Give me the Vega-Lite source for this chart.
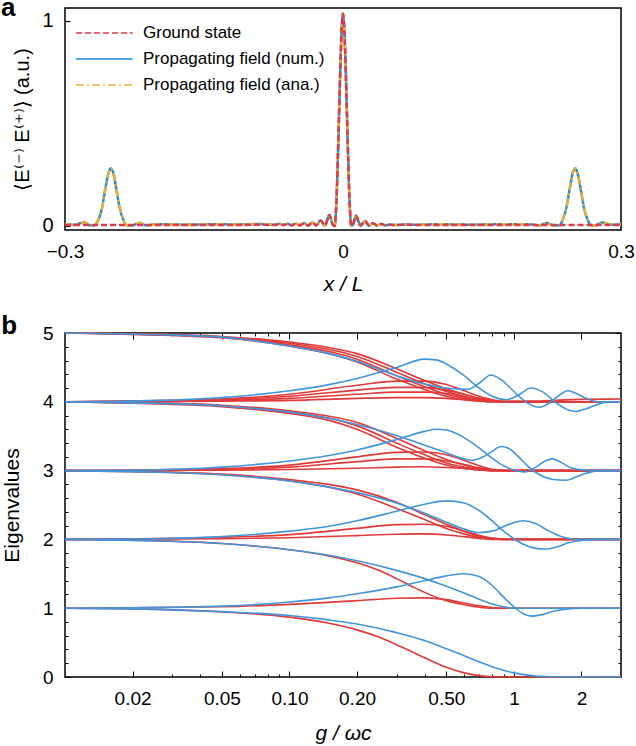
{
  "$schema": "https://vega.github.io/schema/vega-lite/v6.json",
  "padding": {"left": 0, "top": -6, "right": 0, "bottom": 0},
  "spacing": 17,
  "config": {
    "font": "Liberation Sans",
    "view": {"stroke": "black", "strokeWidth": 1.5},
    "axis": {"domain": false, "grid": false, "labelColor": "black", "titleColor": "black", "titleFontWeight": "normal", "tickColor": "black", "labelFont": "Liberation Sans", "titleFont": "Liberation Sans"},
    "legend": {"orient": "top-left", "offset": 15, "padding": 0, "symbolOffset": -5, "symbolType": "M-1,0H5.3", "symbolSize": 324, "symbolStrokeWidth": 1.6, "labelFontSize": 17, "labelOffset": 48, "rowPadding": 8, "labelLimit": 400, "labelColor": "black"}
  },
  "datasets": {
    "fa": [
      {"x": -0.3, "g": 0.004, "n": 0.008, "a": 0.008},
      {"x": -0.29, "g": 0.004, "n": 0.006, "a": 0.006},
      {"x": -0.2795, "g": 0.004, "n": 0.017, "a": 0.017},
      {"x": -0.272, "g": 0.004, "n": 0.002, "a": 0.002},
      {"x": -0.268, "g": 0.004, "n": 0.003, "a": 0.003},
      {"x": -0.264, "g": 0.004, "n": 0.03, "a": 0.03},
      {"x": -0.26, "g": 0.004, "n": 0.09, "a": 0.09},
      {"x": -0.2565, "g": 0.004, "n": 0.18, "a": 0.18},
      {"x": -0.2535, "g": 0.004, "n": 0.25, "a": 0.25},
      {"x": -0.2507, "g": 0.004, "n": 0.28, "a": 0.28},
      {"x": -0.248, "g": 0.004, "n": 0.26, "a": 0.26},
      {"x": -0.245, "g": 0.004, "n": 0.19, "a": 0.19},
      {"x": -0.2415, "g": 0.004, "n": 0.1, "a": 0.1},
      {"x": -0.2375, "g": 0.004, "n": 0.035, "a": 0.035},
      {"x": -0.2335, "g": 0.004, "n": 0.003, "a": 0.003},
      {"x": -0.228, "g": 0.004, "n": 0.002, "a": 0.002},
      {"x": -0.2198, "g": 0.004, "n": 0.014, "a": 0.014},
      {"x": -0.212, "g": 0.004, "n": 0.003, "a": 0.003},
      {"x": -0.2, "g": 0.004, "n": 0.008, "a": 0.008},
      {"x": -0.17, "g": 0.004, "n": 0.006, "a": 0.006},
      {"x": -0.14, "g": 0.004, "n": 0.008, "a": 0.008},
      {"x": -0.11, "g": 0.004, "n": 0.007, "a": 0.007},
      {"x": -0.09, "g": 0.006, "n": 0.009, "a": 0.009},
      {"x": -0.075, "g": 0.004, "n": 0.006, "a": 0.006},
      {"x": -0.068, "g": 0.008, "n": 0.01, "a": 0.01},
      {"x": -0.064, "g": 0.004, "n": 0.005, "a": 0.005},
      {"x": -0.06, "g": 0.009, "n": 0.01, "a": 0.01},
      {"x": -0.0555, "g": 0.003, "n": 0.004, "a": 0.004},
      {"x": -0.051, "g": 0.01, "n": 0.011, "a": 0.011},
      {"x": -0.0465, "g": 0.003, "n": 0.003, "a": 0.003},
      {"x": -0.042, "g": 0.013, "n": 0.013, "a": 0.013},
      {"x": -0.0375, "g": 0.002, "n": 0.002, "a": 0.002},
      {"x": -0.033, "g": 0.017, "n": 0.017, "a": 0.017},
      {"x": -0.029, "g": 0.002, "n": 0.002, "a": 0.002},
      {"x": -0.0243, "g": 0.026, "n": 0.026, "a": 0.026},
      {"x": -0.0195, "g": 0.002, "n": 0.002, "a": 0.002},
      {"x": -0.0147, "g": 0.053, "n": 0.053, "a": 0.053},
      {"x": -0.0115, "g": 0.01, "n": 0.01, "a": 0.01},
      {"x": -0.009, "g": 0.0, "n": 0.0, "a": 0.0},
      {"x": -0.007, "g": 0.13, "n": 0.13, "a": 0.13},
      {"x": -0.005, "g": 0.42, "n": 0.42, "a": 0.42},
      {"x": -0.003, "g": 0.75, "n": 0.75, "a": 0.75},
      {"x": -0.0015, "g": 0.95, "n": 0.95, "a": 0.95},
      {"x": 0.0, "g": 1.035, "n": 1.035, "a": 1.035},
      {"x": 0.0015, "g": 0.95, "n": 0.95, "a": 0.95},
      {"x": 0.003, "g": 0.75, "n": 0.75, "a": 0.75},
      {"x": 0.005, "g": 0.42, "n": 0.42, "a": 0.42},
      {"x": 0.007, "g": 0.13, "n": 0.13, "a": 0.13},
      {"x": 0.009, "g": 0.0, "n": 0.0, "a": 0.0},
      {"x": 0.0112, "g": 0.01, "n": 0.01, "a": 0.01},
      {"x": 0.0138, "g": 0.049, "n": 0.049, "a": 0.049},
      {"x": 0.019, "g": 0.002, "n": 0.002, "a": 0.002},
      {"x": 0.0238, "g": 0.024, "n": 0.024, "a": 0.024},
      {"x": 0.028, "g": 0.002, "n": 0.002, "a": 0.002},
      {"x": 0.032, "g": 0.013, "n": 0.013, "a": 0.013},
      {"x": 0.037, "g": 0.002, "n": 0.002, "a": 0.002},
      {"x": 0.041, "g": 0.009, "n": 0.009, "a": 0.009},
      {"x": 0.046, "g": 0.003, "n": 0.003, "a": 0.003},
      {"x": 0.05, "g": 0.006, "n": 0.006, "a": 0.006},
      {"x": 0.056, "g": 0.004, "n": 0.004, "a": 0.004},
      {"x": 0.065, "g": 0.006, "n": 0.007, "a": 0.007},
      {"x": 0.08, "g": 0.004, "n": 0.005, "a": 0.005},
      {"x": 0.1, "g": 0.004, "n": 0.008, "a": 0.008},
      {"x": 0.14, "g": 0.004, "n": 0.006, "a": 0.006},
      {"x": 0.17, "g": 0.004, "n": 0.008, "a": 0.008},
      {"x": 0.2, "g": 0.004, "n": 0.008, "a": 0.008},
      {"x": 0.212, "g": 0.004, "n": 0.003, "a": 0.003},
      {"x": 0.2198, "g": 0.004, "n": 0.014, "a": 0.014},
      {"x": 0.228, "g": 0.004, "n": 0.002, "a": 0.002},
      {"x": 0.2335, "g": 0.004, "n": 0.003, "a": 0.003},
      {"x": 0.2375, "g": 0.004, "n": 0.035, "a": 0.035},
      {"x": 0.2415, "g": 0.004, "n": 0.1, "a": 0.1},
      {"x": 0.245, "g": 0.004, "n": 0.19, "a": 0.19},
      {"x": 0.248, "g": 0.004, "n": 0.26, "a": 0.26},
      {"x": 0.2507, "g": 0.004, "n": 0.28, "a": 0.28},
      {"x": 0.2535, "g": 0.004, "n": 0.25, "a": 0.25},
      {"x": 0.2565, "g": 0.004, "n": 0.18, "a": 0.18},
      {"x": 0.26, "g": 0.004, "n": 0.09, "a": 0.09},
      {"x": 0.264, "g": 0.004, "n": 0.03, "a": 0.03},
      {"x": 0.268, "g": 0.004, "n": 0.003, "a": 0.003},
      {"x": 0.272, "g": 0.004, "n": 0.002, "a": 0.002},
      {"x": 0.2795, "g": 0.004, "n": 0.017, "a": 0.017},
      {"x": 0.29, "g": 0.004, "n": 0.006, "a": 0.006},
      {"x": 0.3, "g": 0.004, "n": 0.008, "a": 0.008}
    ],
    "red": [
      {"c":"r0","lv":0,"g":0.01,"e":1},{"c":"r0","lv":0,"g":0.02,"e":0.99},{"c":"r0","lv":0,"g":0.05,"e":0.945},{"c":"r0","lv":0,"g":0.1,"e":0.87},{"c":"r0","lv":0,"g":0.15,"e":0.78},{"c":"r0","lv":0,"g":0.2,"e":0.685},{"c":"r0","lv":0,"g":0.25,"e":0.58},{"c":"r0","lv":0,"g":0.3,"e":0.47},{"c":"r0","lv":0,"g":0.35,"e":0.37},{"c":"r0","lv":0,"g":0.4,"e":0.28},{"c":"r0","lv":0,"g":0.5,"e":0.14},{"c":"r0","lv":0,"g":0.6,"e":0.06},{"c":"r0","lv":0,"g":0.7,"e":0.02},{"c":"r0","lv":0,"g":0.8,"e":0.004},{"c":"r0","lv":0,"g":0.9,"e":0},{"c":"r0","lv":0,"g":3,"e":0},
      {"c":"r1a","lv":1,"g":0.01,"e":1},{"c":"r1a","lv":1,"g":0.05,"e":1.02},{"c":"r1a","lv":1,"g":0.1,"e":1.055},{"c":"r1a","lv":1,"g":0.2,"e":1.11},{"c":"r1a","lv":1,"g":0.3,"e":1.145},{"c":"r1a","lv":1,"g":0.4,"e":1.15},{"c":"r1a","lv":1,"g":0.5,"e":1.125},{"c":"r1a","lv":1,"g":0.6,"e":1.075},{"c":"r1a","lv":1,"g":0.7,"e":1.035},{"c":"r1a","lv":1,"g":0.8,"e":1.01},{"c":"r1a","lv":1,"g":0.9,"e":1},{"c":"r1a","lv":1,"g":3,"e":1},
      {"c":"r1b","lv":1,"g":0.01,"e":2},{"c":"r1b","lv":1,"g":0.02,"e":1.99},{"c":"r1b","lv":1,"g":0.05,"e":1.94},{"c":"r1b","lv":1,"g":0.1,"e":1.85},{"c":"r1b","lv":1,"g":0.15,"e":1.76},{"c":"r1b","lv":1,"g":0.2,"e":1.66},{"c":"r1b","lv":1,"g":0.25,"e":1.55},{"c":"r1b","lv":1,"g":0.3,"e":1.43},{"c":"r1b","lv":1,"g":0.35,"e":1.32},{"c":"r1b","lv":1,"g":0.4,"e":1.23},{"c":"r1b","lv":1,"g":0.5,"e":1.11},{"c":"r1b","lv":1,"g":0.6,"e":1.05},{"c":"r1b","lv":1,"g":0.7,"e":1.015},{"c":"r1b","lv":1,"g":0.8,"e":1},{"c":"r1b","lv":1,"g":3,"e":1},
      {"c":"r2a","lv":2,"g":0.01,"e":2},{"c":"r2a","lv":2,"g":0.05,"e":2.03},{"c":"r2a","lv":2,"g":0.1,"e":2.07},{"c":"r2a","lv":2,"g":0.2,"e":2.16},{"c":"r2a","lv":2,"g":0.3,"e":2.215},{"c":"r2a","lv":2,"g":0.4,"e":2.22},{"c":"r2a","lv":2,"g":0.5,"e":2.19},{"c":"r2a","lv":2,"g":0.6,"e":2.12},{"c":"r2a","lv":2,"g":0.7,"e":2.06},{"c":"r2a","lv":2,"g":0.8,"e":2.02},{"c":"r2a","lv":2,"g":0.9,"e":2.005},{"c":"r2a","lv":2,"g":1,"e":2},{"c":"r2a","lv":2,"g":3,"e":2},
      {"c":"r2b","lv":2,"g":0.01,"e":2},{"c":"r2b","lv":2,"g":0.05,"e":2.01},{"c":"r2b","lv":2,"g":0.1,"e":2.025},{"c":"r2b","lv":2,"g":0.2,"e":2.055},{"c":"r2b","lv":2,"g":0.3,"e":2.075},{"c":"r2b","lv":2,"g":0.4,"e":2.08},{"c":"r2b","lv":2,"g":0.5,"e":2.065},{"c":"r2b","lv":2,"g":0.6,"e":2.04},{"c":"r2b","lv":2,"g":0.7,"e":2.015},{"c":"r2b","lv":2,"g":0.8,"e":2},{"c":"r2b","lv":2,"g":3,"e":2},
      {"c":"r2c","lv":2,"g":0.01,"e":3},{"c":"r2c","lv":2,"g":0.02,"e":2.99},{"c":"r2c","lv":2,"g":0.05,"e":2.95},{"c":"r2c","lv":2,"g":0.1,"e":2.87},{"c":"r2c","lv":2,"g":0.15,"e":2.8},{"c":"r2c","lv":2,"g":0.2,"e":2.72},{"c":"r2c","lv":2,"g":0.3,"e":2.54},{"c":"r2c","lv":2,"g":0.4,"e":2.36},{"c":"r2c","lv":2,"g":0.5,"e":2.22},{"c":"r2c","lv":2,"g":0.6,"e":2.12},{"c":"r2c","lv":2,"g":0.7,"e":2.05},{"c":"r2c","lv":2,"g":0.8,"e":2.015},{"c":"r2c","lv":2,"g":0.9,"e":2},{"c":"r2c","lv":2,"g":3,"e":2},
      {"c":"r2d","lv":2,"g":0.01,"e":3},{"c":"r2d","lv":2,"g":0.02,"e":2.985},{"c":"r2d","lv":2,"g":0.05,"e":2.94},{"c":"r2d","lv":2,"g":0.1,"e":2.85},{"c":"r2d","lv":2,"g":0.15,"e":2.76},{"c":"r2d","lv":2,"g":0.2,"e":2.66},{"c":"r2d","lv":2,"g":0.3,"e":2.45},{"c":"r2d","lv":2,"g":0.4,"e":2.29},{"c":"r2d","lv":2,"g":0.5,"e":2.16},{"c":"r2d","lv":2,"g":0.6,"e":2.08},{"c":"r2d","lv":2,"g":0.7,"e":2.03},{"c":"r2d","lv":2,"g":0.8,"e":2.005},{"c":"r2d","lv":2,"g":0.9,"e":2},{"c":"r2d","lv":2,"g":3,"e":2},
      {"c":"r3a","lv":3,"g":0.01,"e":3},{"c":"r3a","lv":3,"g":0.05,"e":3.03},{"c":"r3a","lv":3,"g":0.1,"e":3.08},{"c":"r3a","lv":3,"g":0.2,"e":3.2},{"c":"r3a","lv":3,"g":0.3,"e":3.265},{"c":"r3a","lv":3,"g":0.4,"e":3.27},{"c":"r3a","lv":3,"g":0.5,"e":3.23},{"c":"r3a","lv":3,"g":0.6,"e":3.15},{"c":"r3a","lv":3,"g":0.7,"e":3.07},{"c":"r3a","lv":3,"g":0.8,"e":3.02},{"c":"r3a","lv":3,"g":0.9,"e":3.005},{"c":"r3a","lv":3,"g":1,"e":3},{"c":"r3a","lv":3,"g":3,"e":3},
      {"c":"r3b","lv":3,"g":0.01,"e":3},{"c":"r3b","lv":3,"g":0.05,"e":3.02},{"c":"r3b","lv":3,"g":0.1,"e":3.05},{"c":"r3b","lv":3,"g":0.2,"e":3.13},{"c":"r3b","lv":3,"g":0.3,"e":3.17},{"c":"r3b","lv":3,"g":0.4,"e":3.17},{"c":"r3b","lv":3,"g":0.5,"e":3.14},{"c":"r3b","lv":3,"g":0.6,"e":3.09},{"c":"r3b","lv":3,"g":0.7,"e":3.04},{"c":"r3b","lv":3,"g":0.8,"e":3.01},{"c":"r3b","lv":3,"g":0.9,"e":3},{"c":"r3b","lv":3,"g":3,"e":3},
      {"c":"r3c","lv":3,"g":0.01,"e":3},{"c":"r3c","lv":3,"g":0.05,"e":3.005},{"c":"r3c","lv":3,"g":0.1,"e":3.015},{"c":"r3c","lv":3,"g":0.2,"e":3.035},{"c":"r3c","lv":3,"g":0.3,"e":3.05},{"c":"r3c","lv":3,"g":0.4,"e":3.055},{"c":"r3c","lv":3,"g":0.5,"e":3.045},{"c":"r3c","lv":3,"g":0.6,"e":3.03},{"c":"r3c","lv":3,"g":0.7,"e":3.01},{"c":"r3c","lv":3,"g":0.8,"e":3},{"c":"r3c","lv":3,"g":3,"e":3},
      {"c":"r3d","lv":3,"g":0.01,"e":4},{"c":"r3d","lv":3,"g":0.02,"e":3.99},{"c":"r3d","lv":3,"g":0.05,"e":3.95},{"c":"r3d","lv":3,"g":0.1,"e":3.87},{"c":"r3d","lv":3,"g":0.15,"e":3.79},{"c":"r3d","lv":3,"g":0.2,"e":3.7},{"c":"r3d","lv":3,"g":0.3,"e":3.47},{"c":"r3d","lv":3,"g":0.4,"e":3.29},{"c":"r3d","lv":3,"g":0.5,"e":3.16},{"c":"r3d","lv":3,"g":0.6,"e":3.08},{"c":"r3d","lv":3,"g":0.7,"e":3.03},{"c":"r3d","lv":3,"g":0.8,"e":3.01},{"c":"r3d","lv":3,"g":0.9,"e":3},{"c":"r3d","lv":3,"g":3,"e":3},
      {"c":"r3e","lv":3,"g":0.01,"e":4},{"c":"r3e","lv":3,"g":0.02,"e":3.985},{"c":"r3e","lv":3,"g":0.05,"e":3.94},{"c":"r3e","lv":3,"g":0.1,"e":3.85},{"c":"r3e","lv":3,"g":0.15,"e":3.76},{"c":"r3e","lv":3,"g":0.2,"e":3.65},{"c":"r3e","lv":3,"g":0.3,"e":3.4},{"c":"r3e","lv":3,"g":0.4,"e":3.23},{"c":"r3e","lv":3,"g":0.5,"e":3.11},{"c":"r3e","lv":3,"g":0.6,"e":3.05},{"c":"r3e","lv":3,"g":0.7,"e":3.015},{"c":"r3e","lv":3,"g":0.8,"e":3},{"c":"r3e","lv":3,"g":3,"e":3},
      {"c":"r3f","lv":3,"g":0.01,"e":4},{"c":"r3f","lv":3,"g":0.02,"e":3.98},{"c":"r3f","lv":3,"g":0.05,"e":3.93},{"c":"r3f","lv":3,"g":0.1,"e":3.83},{"c":"r3f","lv":3,"g":0.15,"e":3.73},{"c":"r3f","lv":3,"g":0.2,"e":3.6},{"c":"r3f","lv":3,"g":0.3,"e":3.34},{"c":"r3f","lv":3,"g":0.4,"e":3.18},{"c":"r3f","lv":3,"g":0.5,"e":3.08},{"c":"r3f","lv":3,"g":0.6,"e":3.03},{"c":"r3f","lv":3,"g":0.7,"e":3.01},{"c":"r3f","lv":3,"g":0.8,"e":3},{"c":"r3f","lv":3,"g":3,"e":3},
      {"c":"r4a","lv":4,"g":0.01,"e":4},{"c":"r4a","lv":4,"g":0.05,"e":4.04},{"c":"r4a","lv":4,"g":0.1,"e":4.11},{"c":"r4a","lv":4,"g":0.2,"e":4.24},{"c":"r4a","lv":4,"g":0.3,"e":4.3},{"c":"r4a","lv":4,"g":0.4,"e":4.3},{"c":"r4a","lv":4,"g":0.5,"e":4.25},{"c":"r4a","lv":4,"g":0.6,"e":4.16},{"c":"r4a","lv":4,"g":0.7,"e":4.08},{"c":"r4a","lv":4,"g":0.8,"e":4.03},{"c":"r4a","lv":4,"g":0.9,"e":4.01},{"c":"r4a","lv":4,"g":1.2,"e":4.01},{"c":"r4a","lv":4,"g":1.6,"e":4.025},{"c":"r4a","lv":4,"g":2,"e":4.035},{"c":"r4a","lv":4,"g":3,"e":4.04},
      {"c":"r4b","lv":4,"g":0.01,"e":4},{"c":"r4b","lv":4,"g":0.05,"e":4.03},{"c":"r4b","lv":4,"g":0.1,"e":4.08},{"c":"r4b","lv":4,"g":0.2,"e":4.17},{"c":"r4b","lv":4,"g":0.3,"e":4.21},{"c":"r4b","lv":4,"g":0.4,"e":4.21},{"c":"r4b","lv":4,"g":0.5,"e":4.17},{"c":"r4b","lv":4,"g":0.6,"e":4.11},{"c":"r4b","lv":4,"g":0.7,"e":4.05},{"c":"r4b","lv":4,"g":0.8,"e":4.02},{"c":"r4b","lv":4,"g":0.9,"e":4},{"c":"r4b","lv":4,"g":3,"e":4},
      {"c":"r4c","lv":4,"g":0.01,"e":4},{"c":"r4c","lv":4,"g":0.05,"e":4.02},{"c":"r4c","lv":4,"g":0.1,"e":4.05},{"c":"r4c","lv":4,"g":0.2,"e":4.11},{"c":"r4c","lv":4,"g":0.3,"e":4.14},{"c":"r4c","lv":4,"g":0.4,"e":4.14},{"c":"r4c","lv":4,"g":0.5,"e":4.12},{"c":"r4c","lv":4,"g":0.6,"e":4.07},{"c":"r4c","lv":4,"g":0.7,"e":4.03},{"c":"r4c","lv":4,"g":0.8,"e":4.01},{"c":"r4c","lv":4,"g":0.9,"e":4},{"c":"r4c","lv":4,"g":3,"e":4},
      {"c":"r4d","lv":4,"g":0.01,"e":4},{"c":"r4d","lv":4,"g":0.05,"e":4.01},{"c":"r4d","lv":4,"g":0.1,"e":4.02},{"c":"r4d","lv":4,"g":0.2,"e":4.05},{"c":"r4d","lv":4,"g":0.3,"e":4.06},{"c":"r4d","lv":4,"g":0.4,"e":4.06},{"c":"r4d","lv":4,"g":0.5,"e":4.05},{"c":"r4d","lv":4,"g":0.6,"e":4.03},{"c":"r4d","lv":4,"g":0.7,"e":4.01},{"c":"r4d","lv":4,"g":0.8,"e":4},{"c":"r4d","lv":4,"g":3,"e":4},
      {"c":"r4e","lv":4,"g":0.01,"e":5},{"c":"r4e","lv":4,"g":0.02,"e":4.99},{"c":"r4e","lv":4,"g":0.05,"e":4.95},{"c":"r4e","lv":4,"g":0.1,"e":4.87},{"c":"r4e","lv":4,"g":0.15,"e":4.79},{"c":"r4e","lv":4,"g":0.2,"e":4.7},{"c":"r4e","lv":4,"g":0.3,"e":4.48},{"c":"r4e","lv":4,"g":0.4,"e":4.31},{"c":"r4e","lv":4,"g":0.5,"e":4.19},{"c":"r4e","lv":4,"g":0.6,"e":4.11},{"c":"r4e","lv":4,"g":0.7,"e":4.05},{"c":"r4e","lv":4,"g":0.8,"e":4.02},{"c":"r4e","lv":4,"g":0.9,"e":4},{"c":"r4e","lv":4,"g":3,"e":4},
      {"c":"r4f","lv":4,"g":0.01,"e":5},{"c":"r4f","lv":4,"g":0.02,"e":4.99},{"c":"r4f","lv":4,"g":0.05,"e":4.94},{"c":"r4f","lv":4,"g":0.1,"e":4.85},{"c":"r4f","lv":4,"g":0.15,"e":4.76},{"c":"r4f","lv":4,"g":0.2,"e":4.66},{"c":"r4f","lv":4,"g":0.3,"e":4.43},{"c":"r4f","lv":4,"g":0.4,"e":4.26},{"c":"r4f","lv":4,"g":0.5,"e":4.15},{"c":"r4f","lv":4,"g":0.6,"e":4.08},{"c":"r4f","lv":4,"g":0.7,"e":4.03},{"c":"r4f","lv":4,"g":0.8,"e":4.01},{"c":"r4f","lv":4,"g":0.9,"e":4},{"c":"r4f","lv":4,"g":3,"e":4},
      {"c":"r4g","lv":4,"g":0.01,"e":5},{"c":"r4g","lv":4,"g":0.02,"e":4.985},{"c":"r4g","lv":4,"g":0.05,"e":4.935},{"c":"r4g","lv":4,"g":0.1,"e":4.83},{"c":"r4g","lv":4,"g":0.15,"e":4.73},{"c":"r4g","lv":4,"g":0.2,"e":4.62},{"c":"r4g","lv":4,"g":0.3,"e":4.38},{"c":"r4g","lv":4,"g":0.4,"e":4.22},{"c":"r4g","lv":4,"g":0.5,"e":4.11},{"c":"r4g","lv":4,"g":0.6,"e":4.05},{"c":"r4g","lv":4,"g":0.7,"e":4.02},{"c":"r4g","lv":4,"g":0.8,"e":4},{"c":"r4g","lv":4,"g":3,"e":4},
      {"c":"r4h","lv":4,"g":0.01,"e":5},{"c":"r4h","lv":4,"g":0.02,"e":4.98},{"c":"r4h","lv":4,"g":0.05,"e":4.93},{"c":"r4h","lv":4,"g":0.1,"e":4.81},{"c":"r4h","lv":4,"g":0.15,"e":4.7},{"c":"r4h","lv":4,"g":0.2,"e":4.58},{"c":"r4h","lv":4,"g":0.3,"e":4.33},{"c":"r4h","lv":4,"g":0.4,"e":4.18},{"c":"r4h","lv":4,"g":0.5,"e":4.08},{"c":"r4h","lv":4,"g":0.6,"e":4.03},{"c":"r4h","lv":4,"g":0.7,"e":4.01},{"c":"r4h","lv":4,"g":0.8,"e":4},{"c":"r4h","lv":4,"g":3,"e":4}
    ],
    "blue": [
      {"c":"b0","lv":0,"g":0.01,"e":1},{"c":"b0","lv":0,"g":0.02,"e":0.99},{"c":"b0","lv":0,"g":0.05,"e":0.95},{"c":"b0","lv":0,"g":0.1,"e":0.895},{"c":"b0","lv":0,"g":0.15,"e":0.83},{"c":"b0","lv":0,"g":0.2,"e":0.77},{"c":"b0","lv":0,"g":0.3,"e":0.645},{"c":"b0","lv":0,"g":0.4,"e":0.53},{"c":"b0","lv":0,"g":0.5,"e":0.41},{"c":"b0","lv":0,"g":0.6,"e":0.31},{"c":"b0","lv":0,"g":0.7,"e":0.22},{"c":"b0","lv":0,"g":0.8,"e":0.15},{"c":"b0","lv":0,"g":1,"e":0.06},{"c":"b0","lv":0,"g":1.2,"e":0.02},{"c":"b0","lv":0,"g":1.5,"e":0.003},{"c":"b0","lv":0,"g":2,"e":0},{"c":"b0","lv":0,"g":3,"e":0},
      {"c":"b1a","lv":1,"g":0.01,"e":1},{"c":"b1a","lv":1,"g":0.02,"e":1.005},{"c":"b1a","lv":1,"g":0.05,"e":1.03},{"c":"b1a","lv":1,"g":0.1,"e":1.09},{"c":"b1a","lv":1,"g":0.15,"e":1.15},{"c":"b1a","lv":1,"g":0.2,"e":1.21},{"c":"b1a","lv":1,"g":0.3,"e":1.31},{"c":"b1a","lv":1,"g":0.4,"e":1.4},{"c":"b1a","lv":1,"g":0.5,"e":1.47},{"c":"b1a","lv":1,"g":0.6,"e":1.5},{"c":"b1a","lv":1,"g":0.7,"e":1.46},{"c":"b1a","lv":1,"g":0.8,"e":1.33},{"c":"b1a","lv":1,"g":0.9,"e":1.16},{"c":"b1a","lv":1,"g":1,"e":1.02},{"c":"b1a","lv":1,"g":1.1,"e":0.92},{"c":"b1a","lv":1,"g":1.2,"e":0.885},{"c":"b1a","lv":1,"g":1.35,"e":0.91},{"c":"b1a","lv":1,"g":1.5,"e":0.955},{"c":"b1a","lv":1,"g":1.7,"e":0.985},{"c":"b1a","lv":1,"g":2,"e":1},{"c":"b1a","lv":1,"g":3,"e":1},
      {"c":"b1b","lv":1,"g":0.01,"e":2},{"c":"b1b","lv":1,"g":0.02,"e":1.985},{"c":"b1b","lv":1,"g":0.05,"e":1.94},{"c":"b1b","lv":1,"g":0.1,"e":1.85},{"c":"b1b","lv":1,"g":0.15,"e":1.77},{"c":"b1b","lv":1,"g":0.2,"e":1.69},{"c":"b1b","lv":1,"g":0.3,"e":1.55},{"c":"b1b","lv":1,"g":0.4,"e":1.43},{"c":"b1b","lv":1,"g":0.5,"e":1.32},{"c":"b1b","lv":1,"g":0.6,"e":1.22},{"c":"b1b","lv":1,"g":0.7,"e":1.13},{"c":"b1b","lv":1,"g":0.8,"e":1.06},{"c":"b1b","lv":1,"g":0.9,"e":1.02},{"c":"b1b","lv":1,"g":1,"e":1},{"c":"b1b","lv":1,"g":3,"e":1},
      {"c":"b2a","lv":2,"g":0.01,"e":2},{"c":"b2a","lv":2,"g":0.02,"e":2.005},{"c":"b2a","lv":2,"g":0.05,"e":2.04},{"c":"b2a","lv":2,"g":0.1,"e":2.12},{"c":"b2a","lv":2,"g":0.15,"e":2.19},{"c":"b2a","lv":2,"g":0.2,"e":2.27},{"c":"b2a","lv":2,"g":0.3,"e":2.41},{"c":"b2a","lv":2,"g":0.4,"e":2.51},{"c":"b2a","lv":2,"g":0.5,"e":2.56},{"c":"b2a","lv":2,"g":0.6,"e":2.53},{"c":"b2a","lv":2,"g":0.7,"e":2.42},{"c":"b2a","lv":2,"g":0.8,"e":2.27},{"c":"b2a","lv":2,"g":0.9,"e":2.12},{"c":"b2a","lv":2,"g":1,"e":2.01},{"c":"b2a","lv":2,"g":1.1,"e":1.93},{"c":"b2a","lv":2,"g":1.25,"e":1.87},{"c":"b2a","lv":2,"g":1.38,"e":1.86},{"c":"b2a","lv":2,"g":1.55,"e":1.89},{"c":"b2a","lv":2,"g":1.75,"e":1.95},{"c":"b2a","lv":2,"g":2,"e":1.985},{"c":"b2a","lv":2,"g":2.3,"e":2},{"c":"b2a","lv":2,"g":3,"e":2},
      {"c":"b2b","lv":2,"g":0.01,"e":3},{"c":"b2b","lv":2,"g":0.02,"e":2.985},{"c":"b2b","lv":2,"g":0.05,"e":2.94},{"c":"b2b","lv":2,"g":0.1,"e":2.85},{"c":"b2b","lv":2,"g":0.15,"e":2.76},{"c":"b2b","lv":2,"g":0.2,"e":2.68},{"c":"b2b","lv":2,"g":0.3,"e":2.53},{"c":"b2b","lv":2,"g":0.4,"e":2.38},{"c":"b2b","lv":2,"g":0.5,"e":2.25},{"c":"b2b","lv":2,"g":0.6,"e":2.15},{"c":"b2b","lv":2,"g":0.7,"e":2.1},{"c":"b2b","lv":2,"g":0.8,"e":2.12},{"c":"b2b","lv":2,"g":0.95,"e":2.22},{"c":"b2b","lv":2,"g":1.1,"e":2.27},{"c":"b2b","lv":2,"g":1.25,"e":2.23},{"c":"b2b","lv":2,"g":1.4,"e":2.14},{"c":"b2b","lv":2,"g":1.6,"e":2.05},{"c":"b2b","lv":2,"g":1.8,"e":2.01},{"c":"b2b","lv":2,"g":2,"e":2},{"c":"b2b","lv":2,"g":3,"e":2},
      {"c":"b3a","lv":3,"g":0.01,"e":3},{"c":"b3a","lv":3,"g":0.02,"e":3.005},{"c":"b3a","lv":3,"g":0.05,"e":3.05},{"c":"b3a","lv":3,"g":0.1,"e":3.14},{"c":"b3a","lv":3,"g":0.15,"e":3.22},{"c":"b3a","lv":3,"g":0.2,"e":3.3},{"c":"b3a","lv":3,"g":0.3,"e":3.45},{"c":"b3a","lv":3,"g":0.4,"e":3.57},{"c":"b3a","lv":3,"g":0.45,"e":3.6},{"c":"b3a","lv":3,"g":0.5,"e":3.59},{"c":"b3a","lv":3,"g":0.6,"e":3.48},{"c":"b3a","lv":3,"g":0.7,"e":3.33},{"c":"b3a","lv":3,"g":0.8,"e":3.18},{"c":"b3a","lv":3,"g":0.9,"e":3.07},{"c":"b3a","lv":3,"g":1,"e":3.01},{"c":"b3a","lv":3,"g":1.12,"e":2.98},{"c":"b3a","lv":3,"g":1.25,"e":3.05},{"c":"b3a","lv":3,"g":1.38,"e":3.14},{"c":"b3a","lv":3,"g":1.48,"e":3.17},{"c":"b3a","lv":3,"g":1.6,"e":3.13},{"c":"b3a","lv":3,"g":1.8,"e":3.04},{"c":"b3a","lv":3,"g":2,"e":3.01},{"c":"b3a","lv":3,"g":2.3,"e":3},{"c":"b3a","lv":3,"g":3,"e":3},
      {"c":"b3b","lv":3,"g":0.01,"e":4},{"c":"b3b","lv":3,"g":0.02,"e":3.985},{"c":"b3b","lv":3,"g":0.05,"e":3.94},{"c":"b3b","lv":3,"g":0.1,"e":3.85},{"c":"b3b","lv":3,"g":0.15,"e":3.76},{"c":"b3b","lv":3,"g":0.2,"e":3.67},{"c":"b3b","lv":3,"g":0.3,"e":3.51},{"c":"b3b","lv":3,"g":0.4,"e":3.37},{"c":"b3b","lv":3,"g":0.5,"e":3.26},{"c":"b3b","lv":3,"g":0.6,"e":3.17},{"c":"b3b","lv":3,"g":0.65,"e":3.15},{"c":"b3b","lv":3,"g":0.72,"e":3.19},{"c":"b3b","lv":3,"g":0.8,"e":3.28},{"c":"b3b","lv":3,"g":0.875,"e":3.35},{"c":"b3b","lv":3,"g":0.95,"e":3.32},{"c":"b3b","lv":3,"g":1.05,"e":3.2},{"c":"b3b","lv":3,"g":1.15,"e":3.07},{"c":"b3b","lv":3,"g":1.3,"e":2.94},{"c":"b3b","lv":3,"g":1.5,"e":2.87},{"c":"b3b","lv":3,"g":1.71,"e":2.86},{"c":"b3b","lv":3,"g":1.9,"e":2.91},{"c":"b3b","lv":3,"g":2.1,"e":2.96},{"c":"b3b","lv":3,"g":2.4,"e":3},{"c":"b3b","lv":3,"g":3,"e":3},
      {"c":"b4a","lv":4,"g":0.01,"e":4},{"c":"b4a","lv":4,"g":0.02,"e":4.01},{"c":"b4a","lv":4,"g":0.05,"e":4.06},{"c":"b4a","lv":4,"g":0.1,"e":4.16},{"c":"b4a","lv":4,"g":0.15,"e":4.25},{"c":"b4a","lv":4,"g":0.2,"e":4.34},{"c":"b4a","lv":4,"g":0.3,"e":4.5},{"c":"b4a","lv":4,"g":0.4,"e":4.62},{"c":"b4a","lv":4,"g":0.45,"e":4.61},{"c":"b4a","lv":4,"g":0.5,"e":4.55},{"c":"b4a","lv":4,"g":0.6,"e":4.38},{"c":"b4a","lv":4,"g":0.7,"e":4.2},{"c":"b4a","lv":4,"g":0.8,"e":4.08},{"c":"b4a","lv":4,"g":0.93,"e":4.03},{"c":"b4a","lv":4,"g":1.05,"e":4.1},{"c":"b4a","lv":4,"g":1.19,"e":4.2},{"c":"b4a","lv":4,"g":1.35,"e":4.14},{"c":"b4a","lv":4,"g":1.55,"e":3.98},{"c":"b4a","lv":4,"g":1.75,"e":3.88},{"c":"b4a","lv":4,"g":1.89,"e":3.86},{"c":"b4a","lv":4,"g":2.1,"e":3.9},{"c":"b4a","lv":4,"g":2.4,"e":3.97},{"c":"b4a","lv":4,"g":2.7,"e":4},{"c":"b4a","lv":4,"g":3,"e":4},
      {"c":"b4b","lv":4,"g":0.01,"e":5},{"c":"b4b","lv":4,"g":0.02,"e":4.985},{"c":"b4b","lv":4,"g":0.05,"e":4.94},{"c":"b4b","lv":4,"g":0.1,"e":4.81},{"c":"b4b","lv":4,"g":0.15,"e":4.7},{"c":"b4b","lv":4,"g":0.2,"e":4.59},{"c":"b4b","lv":4,"g":0.3,"e":4.38},{"c":"b4b","lv":4,"g":0.4,"e":4.26},{"c":"b4b","lv":4,"g":0.5,"e":4.2},{"c":"b4b","lv":4,"g":0.62,"e":4.18},{"c":"b4b","lv":4,"g":0.7,"e":4.27},{"c":"b4b","lv":4,"g":0.79,"e":4.39},{"c":"b4b","lv":4,"g":0.87,"e":4.33},{"c":"b4b","lv":4,"g":1,"e":4.15},{"c":"b4b","lv":4,"g":1.15,"e":3.98},{"c":"b4b","lv":4,"g":1.3,"e":3.92},{"c":"b4b","lv":4,"g":1.45,"e":3.99},{"c":"b4b","lv":4,"g":1.6,"e":4.1},{"c":"b4b","lv":4,"g":1.74,"e":4.16},{"c":"b4b","lv":4,"g":1.9,"e":4.12},{"c":"b4b","lv":4,"g":2.1,"e":4.05},{"c":"b4b","lv":4,"g":2.4,"e":4},{"c":"b4b","lv":4,"g":3,"e":4}
    ]
  },
  "vconcat": [
    {
      "width": 556,
      "height": 222,
      "layer": [
        {
          "data": {"name": "fa"},
          "transform": [{"fold": ["n", "a", "g"], "as": ["s", "y"]}],
          "mark": {"type": "line", "strokeWidth": 2.5, "interpolate": "monotone"},
          "encoding": {
            "x": {"field": "x", "type": "quantitative", "scale": {"domain": [-0.3, 0.3], "nice": false, "zero": false},
              "axis": {"values": [-0.3, 0, 0.3], "labelExpr": "datum.value < 0 ? '−' + format(-datum.value, '.1f') : datum.value == 0 ? '0' : format(datum.value, '.1f')", "ticks": false, "labelFontSize": 19, "labelPadding": 12, "labelFlush": false, "title": "x / L", "titleFontSize": 21, "titleFontStyle": "italic", "titlePadding": 12}},
            "y": {"field": "y", "type": "quantitative", "scale": {"domain": [-0.02, 1.063], "nice": false, "zero": false},
              "axis": {"values": [0, 1], "format": "d", "tickSize": -5, "tickWidth": 1.2, "labelFontSize": 20, "labelPadding": 17, "title": "⟨E⁽⁻⁾ E⁽⁺⁾⟩ (a.u.)", "titleFontSize": 20, "titlePadding": 9}},
            "color": {"field": "s", "type": "nominal", "scale": {"domain": ["g", "n", "a"], "range": ["#e0394a", "#1b8fd4", "#e6b03a"]},
              "legend": {"title": null, "labelExpr": "datum.label == 'g' ? 'Ground state' : datum.label == 'n' ? 'Propagating field (num.)' : 'Propagating field (ana.)'"}},
            "strokeDash": {"field": "s", "type": "nominal", "scale": {"domain": ["g", "n", "a"], "range": [[6, 3], [1, 0], [8, 3, 2, 3]]},
              "legend": {"title": null, "labelExpr": "datum.label == 'g' ? 'Ground state' : datum.label == 'n' ? 'Propagating field (num.)' : 'Propagating field (ana.)'"}}
          }
        },
        {
          "data": {"values": [{"panel": "a"}]},
          "mark": {"type": "text", "fontSize": 26, "fontWeight": "bold", "align": "left", "baseline": "alphabetic", "color": "black"},
          "encoding": {"x": {"datum": -0.369, "axis": null}, "y": {"datum": 1.024, "axis": null}, "text": {"field": "panel"}}
        }
      ],
      "resolve": {"axis": {"x": "independent", "y": "independent"}}
    },
    {
      "width": 556,
      "height": 344,
      "layer": [
        {
          "data": {"name": "red"},
          "mark": {"type": "line", "color": "#e03a3a", "strokeWidth": 1.6, "interpolate": "monotone"},
          "encoding": {
            "x": {"field": "g", "type": "quantitative", "scale": {"type": "log", "domain": [0.01, 3], "nice": false},
              "axis": {"orient": "bottom", "values": [0.02, 0.03, 0.04, 0.05, 0.06, 0.07, 0.08, 0.09, 0.1, 0.2, 0.3, 0.4, 0.5, 0.6, 0.7, 0.8, 0.9, 1, 2],
                "labelExpr": "datum.value == 0.02 ? '0.02' : datum.value == 0.05 ? '0.05' : datum.value == 0.1 ? '0.10' : datum.value == 0.2 ? '0.20' : datum.value == 0.5 ? '0.50' : datum.value == 1 ? '1' : datum.value == 2 ? '2' : ''",
                "tickSize": {"condition": {"test": "indexof([0.02, 0.05, 0.1, 0.2, 0.5, 1, 2], datum.value) >= 0", "value": -6}, "value": -3},
                "labelFontSize": 19, "labelPadding": 18, "labelOverlap": false, "labelFlush": false,
                "title": "g / ωc", "titleFontSize": 21, "titleFontStyle": "italic", "titlePadding": 11}},
            "y": {"field": "e", "type": "quantitative", "scale": {"domain": [0, 5], "nice": false, "zero": false},
              "axis": {"orient": "left", "values": [0, 0.2, 0.4, 0.6, 0.8, 1, 1.2, 1.4, 1.6, 1.8, 2, 2.2, 2.4, 2.6, 2.8, 3, 3.2, 3.4, 3.6, 3.8, 4, 4.2, 4.4, 4.6, 4.8, 5],
                "labelExpr": "abs(datum.value - round(datum.value)) < 0.001 ? format(datum.value, 'd') : ''",
                "tickSize": {"condition": {"test": "abs(datum.value - round(datum.value)) < 0.001", "value": -6}, "value": -3},
                "labelFontSize": 19, "labelPadding": 18, "labelOverlap": false, "labelFlush": false,
                "title": "Eigenvalues", "titleFontSize": 21, "titlePadding": 20}},
            "detail": {"field": "c", "type": "nominal"}
          }
        },
        {
          "data": {"name": "blue"},
          "mark": {"type": "line", "color": "#4395dc", "strokeWidth": 1.6, "interpolate": "monotone"},
          "encoding": {
            "x": {"field": "g", "type": "quantitative", "scale": {"type": "log", "domain": [0.01, 3], "nice": false},
              "axis": {"orient": "top", "values": [0.02, 0.03, 0.04, 0.05, 0.06, 0.07, 0.08, 0.09, 0.1, 0.2, 0.3, 0.4, 0.5, 0.6, 0.7, 0.8, 0.9, 1, 2],
                "labels": false, "title": null, "minExtent": 0, "maxExtent": 0,
                "tickSize": {"condition": {"test": "indexof([0.02, 0.05, 0.1, 0.2, 0.5, 1, 2], datum.value) >= 0", "value": -6}, "value": -3}}},
            "y": {"field": "e", "type": "quantitative", "scale": {"domain": [0, 5], "nice": false, "zero": false},
              "axis": {"orient": "right", "values": [0, 0.2, 0.4, 0.6, 0.8, 1, 1.2, 1.4, 1.6, 1.8, 2, 2.2, 2.4, 2.6, 2.8, 3, 3.2, 3.4, 3.6, 3.8, 4, 4.2, 4.4, 4.6, 4.8, 5],
                "labels": false, "title": null, "minExtent": 0, "maxExtent": 0,
                "tickSize": {"condition": {"test": "abs(datum.value - round(datum.value)) < 0.001", "value": -6}, "value": -3}}},
            "detail": {"field": "c", "type": "nominal"}
          }
        },
        {
          "data": {"values": [{"panel": "b"}]},
          "mark": {"type": "text", "fontSize": 26, "fontWeight": "bold", "align": "left", "baseline": "alphabetic", "color": "black"},
          "encoding": {"x": {"datum": 0.0052, "axis": null}, "y": {"datum": 4.985, "axis": null}, "text": {"field": "panel"}}
        }
      ],
      "resolve": {"axis": {"x": "independent", "y": "independent"}}
    }
  ]
}
